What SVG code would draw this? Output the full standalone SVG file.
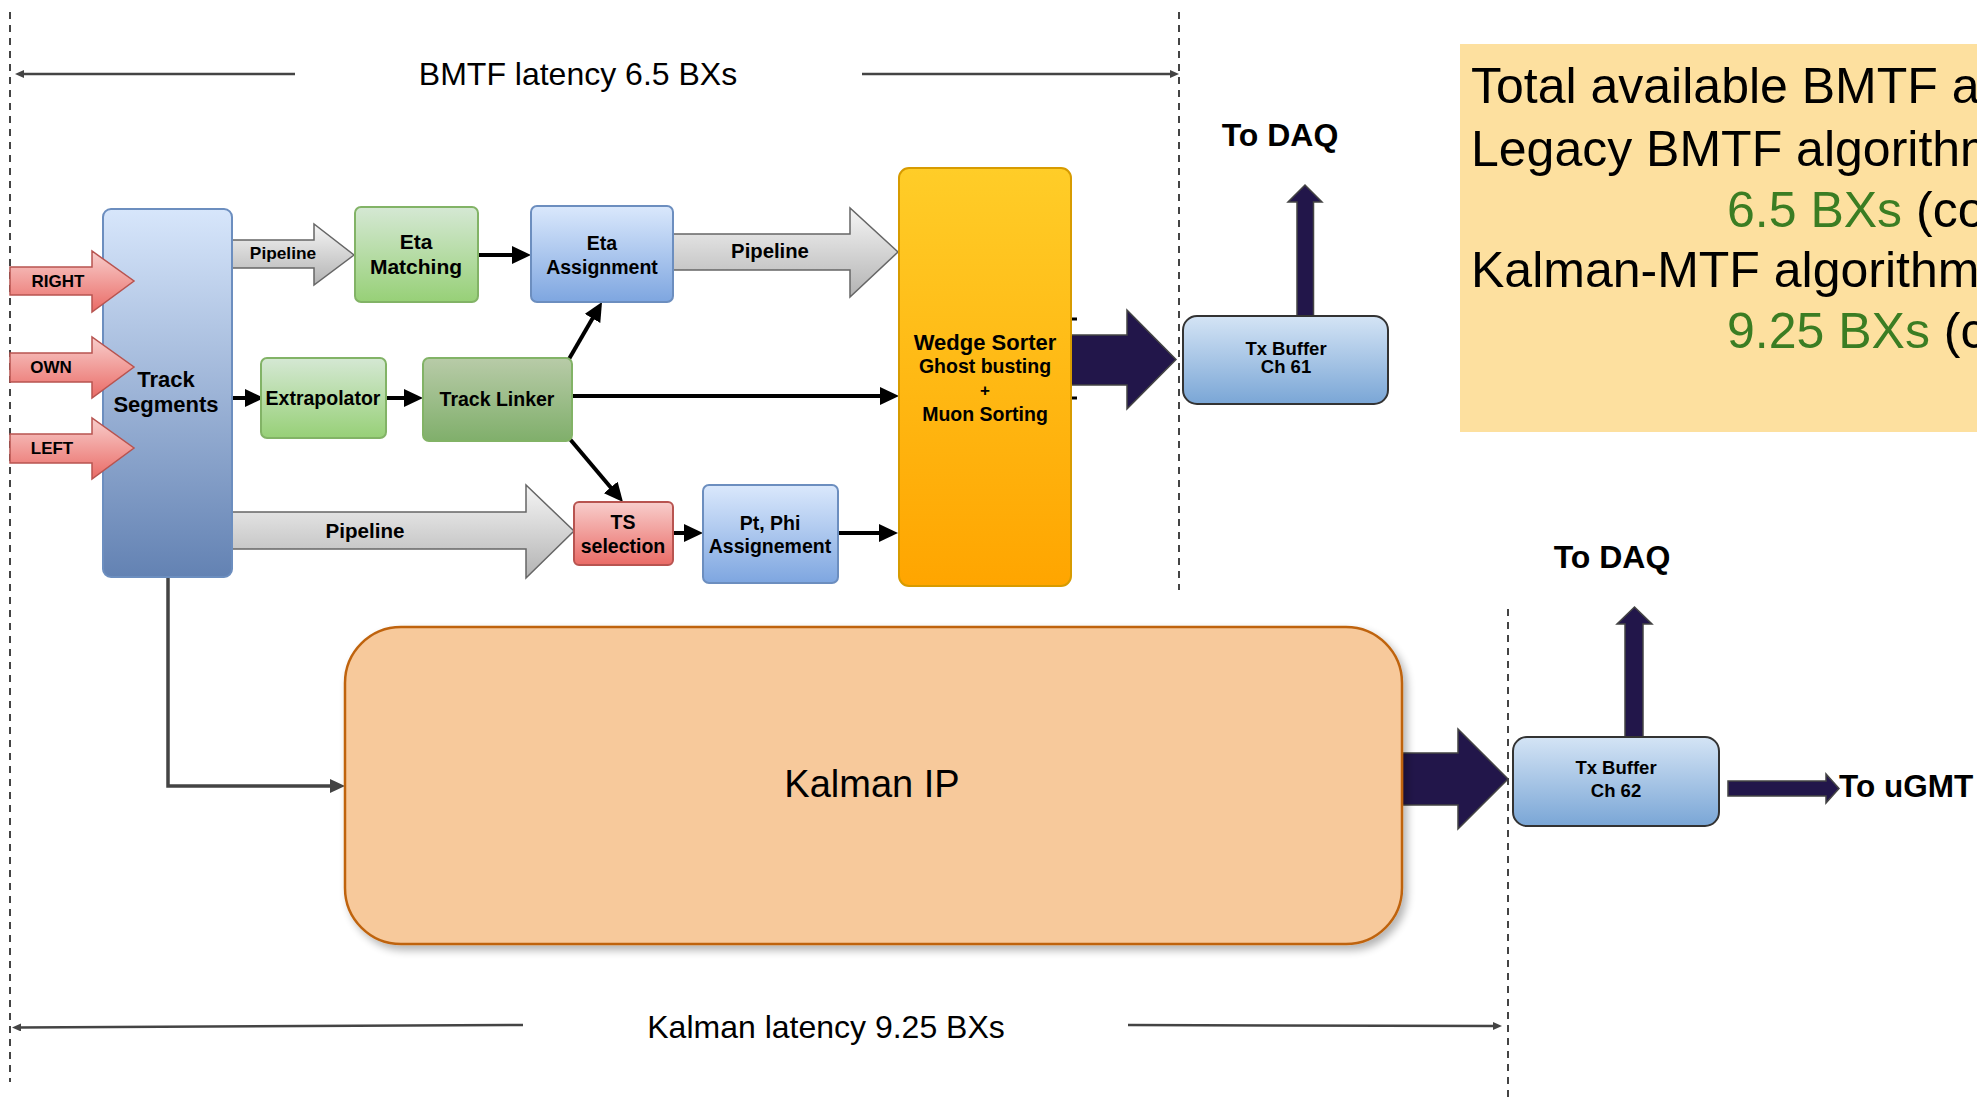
<svg xmlns="http://www.w3.org/2000/svg" width="1977" height="1101" viewBox="0 0 1977 1101">
  <style>
    text { font-family: "Liberation Sans", Arial, sans-serif; fill: #000; }
    .b { font-weight: bold; }
    .mid { text-anchor: middle; }
    .dash { stroke: #444; stroke-width: 2; stroke-dasharray: 7 6; fill: none; }
    .conn { stroke: #000; stroke-width: 4; fill: none; }
    .lat { stroke: #444; stroke-width: 2.5; fill: none; }
    .navy { fill: #22164a; stroke: #444; stroke-width: 1.5; }
    .pipe { fill: url(#gPipe); stroke: #666; stroke-width: 1.5; }
    .inp { fill: url(#gRed); stroke: #b85450; stroke-width: 1.5; }
    .txb { fill: url(#gTx); stroke: #333; stroke-width: 2; }
    .green { fill: url(#gGreen); stroke: #82b366; stroke-width: 2; }
    .blue { fill: url(#gBlue); stroke: #6c8ebf; stroke-width: 2; }
  </style>
  <defs>
    <linearGradient id="gTrack" x1="0" y1="0" x2="0" y2="1">
      <stop offset="0" stop-color="#d7e6fb"/>
      <stop offset="1" stop-color="#6382b3"/>
    </linearGradient>
    <linearGradient id="gGreen" x1="0" y1="0" x2="0" y2="1">
      <stop offset="0" stop-color="#d5e8d4"/>
      <stop offset="1" stop-color="#97d077"/>
    </linearGradient>
    <linearGradient id="gDGreen" x1="0" y1="0" x2="0" y2="1">
      <stop offset="0" stop-color="#b8cba8"/>
      <stop offset="1" stop-color="#80af6b"/>
    </linearGradient>
    <linearGradient id="gBlue" x1="0" y1="0" x2="0" y2="1">
      <stop offset="0" stop-color="#dae8fc"/>
      <stop offset="1" stop-color="#7ea6e0"/>
    </linearGradient>
    <linearGradient id="gRed" x1="0" y1="0" x2="0" y2="1">
      <stop offset="0" stop-color="#f8cecc"/>
      <stop offset="1" stop-color="#ea6b66"/>
    </linearGradient>
    <linearGradient id="gPipe" x1="0" y1="0" x2="0" y2="1">
      <stop offset="0" stop-color="#f5f5f5"/>
      <stop offset="1" stop-color="#b3b3b3"/>
    </linearGradient>
    <linearGradient id="gWedge" x1="0" y1="0" x2="0" y2="1">
      <stop offset="0" stop-color="#ffcd28"/>
      <stop offset="1" stop-color="#ffa500"/>
    </linearGradient>
    <linearGradient id="gTx" x1="0" y1="0" x2="0" y2="1">
      <stop offset="0" stop-color="#d4e4f5"/>
      <stop offset="1" stop-color="#7aa6d6"/>
    </linearGradient>
    <filter id="shadow" x="-5%" y="-5%" width="115%" height="120%">
      <feGaussianBlur in="SourceAlpha" stdDeviation="4"/>
      <feOffset dx="4" dy="5" result="o"/>
      <feComponentTransfer><feFuncA type="linear" slope="0.3"/></feComponentTransfer>
      <feMerge><feMergeNode/><feMergeNode in="SourceGraphic"/></feMerge>
    </filter>
    <marker id="blk" markerUnits="userSpaceOnUse" markerWidth="19" markerHeight="18" refX="4" refY="9" orient="auto">
      <path d="M0,0 L19,9 L0,18 z" fill="#000"/>
    </marker>
    <marker id="gry" markerUnits="userSpaceOnUse" markerWidth="15" markerHeight="14" refX="3" refY="7" orient="auto">
      <path d="M0,0 L15,7 L0,14 z" fill="#444"/>
    </marker>
    <marker id="lat" markerUnits="userSpaceOnUse" markerWidth="9" markerHeight="8" refX="2" refY="4" orient="auto">
      <path d="M0,0 L9,4 L0,8 z" fill="#444"/>
    </marker>
  </defs>

  <!-- latency boundaries -->
  <g id="boundaries">
    <line class="dash" x1="10" y1="12" x2="10" y2="1082"/>
    <line class="dash" x1="1179" y1="12" x2="1179" y2="590"/>
    <line class="dash" x1="1508" y1="609" x2="1508" y2="1101"/>
    <line class="lat" x1="295" y1="74" x2="22" y2="74" marker-end="url(#lat)"/>
    <line class="lat" x1="862" y1="74" x2="1172" y2="74" marker-end="url(#lat)"/>
    <text x="578" y="85" class="mid" font-size="32">BMTF latency 6.5 BXs</text>
    <line class="lat" x1="523" y1="1025" x2="19" y2="1027.5" marker-end="url(#lat)"/>
    <line class="lat" x1="1128" y1="1025" x2="1495" y2="1026" marker-end="url(#lat)"/>
    <text x="826" y="1038" class="mid" font-size="32">Kalman latency 9.25 BXs</text>
  </g>

  <!-- summary panel -->
  <g id="summary">
    <rect x="1460" y="44" width="520" height="388" fill="#fde09f"/>
    <text x="1471" y="103" font-size="50">Total available BMTF a</text>
    <text x="1471" y="166" font-size="50">Legacy BMTF algorithm</text>
    <text x="1727" y="227" font-size="50"><tspan fill="#3b7d23">6.5 BXs</tspan> (co</text>
    <text x="1471" y="287" font-size="50">Kalman-MTF algorithm</text>
    <text x="1727" y="348" font-size="50"><tspan fill="#3b7d23">9.25 BXs</tspan> (c</text>
  </g>

  <!-- connectors -->
  <g id="connectors">
    <line class="conn" x1="479" y1="255" x2="516" y2="255" marker-end="url(#blk)"/>
    <line class="conn" x1="232" y1="398" x2="249" y2="398" marker-end="url(#blk)"/>
    <line class="conn" x1="387" y1="398" x2="408" y2="398" marker-end="url(#blk)"/>
    <line class="conn" x1="569" y1="359" x2="594.5" y2="315" marker-end="url(#blk)"/>
    <line class="conn" x1="572" y1="396" x2="884" y2="396" marker-end="url(#blk)"/>
    <line class="conn" x1="569" y1="438" x2="613.3" y2="490.5" marker-end="url(#blk)"/>
    <line class="conn" x1="673" y1="533" x2="688" y2="533" marker-end="url(#blk)"/>
    <line class="conn" x1="838" y1="533" x2="883" y2="533" marker-end="url(#blk)"/>
    <path d="M168,577 V786 H333" stroke="#444" stroke-width="3.5" fill="none" marker-end="url(#gry)"/>
    <!-- wide data links -->
    <path class="pipe" d="M231.5,240 H314 V224 L354,255 L314,285 V268 H231.5 z"/>
    <text x="283" y="259" class="b mid" font-size="17.3">Pipeline</text>
    <path class="pipe" d="M673,234 H850 V208 L898,252 L850,297 V270 H673 z"/>
    <text x="770" y="258" class="b mid" font-size="20.3">Pipeline</text>
    <path class="pipe" d="M231.5,512 H526 V485 L574,531 L526,578 V549 H231.5 z"/>
    <text x="365" y="538" class="b mid" font-size="20.6">Pipeline</text>
    <path class="navy" d="M1071,335 H1127 V310 L1176,359.5 L1127,409 V385 H1071 z"/>
    <path class="navy" d="M1402,753 H1458 V729 L1508,779 L1458,829 V805 H1402 z"/>
    <path class="navy" d="M1297,316 V202 H1288 L1305,185 L1322,202 H1313.5 V316 z"/>
    <path class="navy" d="M1625,737 V624 H1617 L1634.5,607 L1652,624 H1643 V737 z"/>
    <path class="navy" d="M1728,781 H1826 V774 L1839,788.5 L1826,803 V796 H1728 z"/>
    <line x1="1071" y1="319" x2="1077" y2="319" stroke="#000" stroke-width="3"/>
    <line x1="1071" y1="398" x2="1077" y2="398" stroke="#000" stroke-width="3"/>
  </g>

  <g id="track-segments">
    <rect x="103" y="209" width="129" height="368" rx="8" fill="url(#gTrack)" stroke="#6c8ebf" stroke-width="2"/>
    <text x="166" y="387" class="b mid" font-size="22">Track</text>
    <text x="166" y="412" class="b mid" font-size="22">Segments</text>
  </g>

  <g id="in-right">
    <path class="inp" d="M10,267 H92 V251 L134,281 L92,312 V295 H10 z"/>
    <text x="58" y="287" class="b mid" font-size="17">RIGHT</text>
  </g>
  <g id="in-own">
    <path class="inp" d="M10,353 H92 V337 L134,367 L92,398 V382 H10 z"/>
    <text x="51" y="373" class="b mid" font-size="17">OWN</text>
  </g>
  <g id="in-left">
    <path class="inp" d="M10,434 H92 V418 L134,448 L92,479 V463 H10 z"/>
    <text x="52" y="454" class="b mid" font-size="17">LEFT</text>
  </g>

  <g id="eta-matching">
    <rect class="green" x="355" y="207" width="123" height="95" rx="6"/>
    <text x="416" y="249" class="b mid" font-size="21">Eta</text>
    <text x="416" y="274" class="b mid" font-size="21">Matching</text>
  </g>

  <g id="eta-assignment">
    <rect class="blue" x="531" y="206" width="142" height="96" rx="6"/>
    <text x="602" y="250" class="b mid" font-size="19.5">Eta</text>
    <text x="602" y="274" class="b mid" font-size="19.5">Assignment</text>
  </g>

  <g id="extrapolator">
    <rect class="green" x="261" y="358" width="125" height="80" rx="6"/>
    <text x="323" y="405" class="b mid" font-size="19.5">Extrapolator</text>
  </g>

  <g id="track-linker">
    <rect x="423" y="358" width="149" height="83" rx="6" fill="url(#gDGreen)" stroke="#82b366" stroke-width="2"/>
    <text x="497" y="406" class="b mid" font-size="19.5">Track Linker</text>
  </g>

  <g id="ts-selection">
    <rect x="574" y="502" width="99" height="63" rx="5" fill="url(#gRed)" stroke="#b85450" stroke-width="2"/>
    <text x="623" y="529" class="b mid" font-size="19.5">TS</text>
    <text x="623" y="553" class="b mid" font-size="19.5">selection</text>
  </g>

  <g id="pt-phi">
    <rect class="blue" x="703" y="485" width="135" height="98" rx="6"/>
    <text x="770" y="530" class="b mid" font-size="19.5">Pt, Phi</text>
    <text x="770" y="553" class="b mid" font-size="19.5">Assignement</text>
  </g>

  <g id="wedge-sorter">
    <rect x="899" y="168" width="172" height="418" rx="10" fill="url(#gWedge)" stroke="#d79b00" stroke-width="2"/>
    <text x="985" y="350" class="b mid" font-size="22">Wedge Sorter</text>
    <text x="985" y="373" class="b mid" font-size="19.5">Ghost busting</text>
    <text x="985" y="396" class="b mid" font-size="17">+</text>
    <text x="985" y="421" class="b mid" font-size="19.5">Muon Sorting</text>
  </g>

  <g id="tx-buffer-61">
    <rect class="txb" x="1183" y="316" width="205" height="88" rx="14"/>
    <text x="1286" y="355" class="b mid" font-size="18.5">Tx Buffer</text>
    <text x="1286" y="373" class="b mid" font-size="18.5">Ch 61</text>
  </g>
  <text id="daq-61" x="1280" y="146" class="b mid" font-size="32">To DAQ</text>

  <g id="kalman-ip">
    <rect x="345" y="627" width="1057" height="317" rx="56" fill="#f7c99b" stroke="#bf6410" stroke-width="2.5" filter="url(#shadow)"/>
    <text x="872" y="797" class="mid" font-size="38">Kalman IP</text>
  </g>

  <g id="tx-buffer-62">
    <rect class="txb" x="1513" y="737" width="206" height="89" rx="14"/>
    <text x="1616" y="774" class="b mid" font-size="18.5">Tx Buffer</text>
    <text x="1616" y="797" class="b mid" font-size="18.5">Ch 62</text>
  </g>
  <text id="daq-62" x="1612" y="568" class="b mid" font-size="32">To DAQ</text>
  <text id="to-ugmt" x="1839" y="797" class="b" font-size="31.5">To uGMT</text>
</svg>
